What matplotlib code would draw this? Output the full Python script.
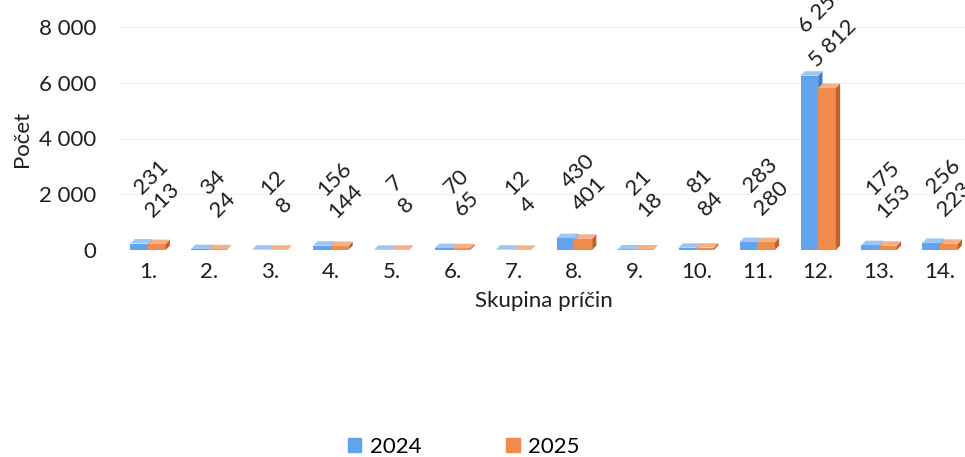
import matplotlib
matplotlib.use("Agg")
import matplotlib.pyplot as plt
from matplotlib.patches import Polygon
import numpy as np

categories = ["1.", "2.", "3.", "4.", "5.", "6.", "7.", "8.", "9.", "10.", "11.", "12.", "13.", "14."]
values_2024 = [231, 34, 12, 156, 7, 70, 12, 430, 21, 81, 283, 6253, 175, 256]
values_2025 = [213, 24, 8, 144, 8, 65, 4, 401, 18, 84, 280, 5812, 153, 223]
series_names = ["2024", "2025"]
yticks = [0, 2000, 4000, 6000, 8000]
ytick_labels = ["0", "2 000", "4 000", "6 000", "8 000"]

plt.rcParams['font.family'] = ['Lato', 'DejaVu Sans']
FS = 16

W, H = 965, 457
fig = plt.figure(figsize=(W / 100, H / 100), dpi=100)
left_px, right_px = 117.5, 970.5
bottom_px, top_px = 250, 27
ax = fig.add_axes([left_px / W, 1 - bottom_px / H, (right_px - left_px) / W, (bottom_px - top_px) / H])

c_front = ["#62A3EE", "#F08B4B"]
c_side = ["#3E7CC8", "#C2622A"]
c_top = ["#9CC6F6", "#F6B084"]

x = np.arange(len(categories))
w = 0.29
dx, dy = 0.07, 160

for i, vals in enumerate([values_2024, values_2025]):
    xs = x + (i - 0.5) * w
    ax.bar(xs, vals, width=w, color=c_front[i], zorder=3 + 2 * i, label=series_names[i])
    for xc, v in zip(xs, vals):
        r = xc + w / 2
        l = xc - w / 2
        side = Polygon([(r, 0), (r + dx, dy), (r + dx, v + dy), (r, v)], closed=True,
                       facecolor=c_side[i], edgecolor='none', zorder=3 + 2 * i)
        top = Polygon([(l, v), (l + dx, v + dy), (r + dx, v + dy), (r, v)], closed=True,
                      facecolor=c_top[i], edgecolor='none', zorder=3 + 2 * i)
        ax.add_patch(side)
        ax.add_patch(top)

# data labels
for xc, v in zip(x - 0.5 * w, values_2024):
    ax.annotate(f"{v:,}".replace(",", " "), (xc, v), xytext=(9, 48), textcoords='offset points',
                rotation=45, ha='center', va='center', fontsize=FS, color='#1E1E1E',
                annotation_clip=False, zorder=10)
for xc, v in zip(x + 0.5 * w, values_2025):
    ax.annotate(f"{v:,}".replace(",", " "), (xc, v), xytext=(4, 32), textcoords='offset points',
                rotation=45, ha='center', va='center', fontsize=FS, color='#1E1E1E',
                annotation_clip=False, zorder=10)

ax.set_xlim(-0.5, len(categories) - 0.5)
ax.set_ylim(0, 8000)
ax.set_yticks(yticks)
ax.set_yticklabels(ytick_labels)
ax.set_xticks(x)
ax.set_xticklabels(categories)
ax.tick_params(axis='both', length=0, labelsize=FS, colors='#1E1E1E')
ax.tick_params(axis='y', pad=15)
ax.tick_params(axis='x', pad=9)
for s in ax.spines.values():
    s.set_visible(False)
ax.yaxis.grid(True, color='#EFEFEF', linewidth=0.8, zorder=0)
ax.set_axisbelow(True)

ax.set_ylabel("Počet", fontsize=FS, color='#1E1E1E', labelpad=5)
ax.set_xlabel("Skupina príčin", fontsize=FS, color='#1E1E1E', labelpad=6)

handles = [plt.Rectangle((0, 0), 1, 1, color=c_front[0]), plt.Rectangle((0, 0), 1, 1, color=c_front[1])]
fig.legend(handles, series_names, loc='center', bbox_to_anchor=(464 / W, 1 - 447 / H), ncol=2,
           frameon=False, fontsize=FS, handlelength=0.6, handleheight=0.6, handletextpad=0.4,
           columnspacing=3.8)

fig.savefig("out.png", dpi=100)
